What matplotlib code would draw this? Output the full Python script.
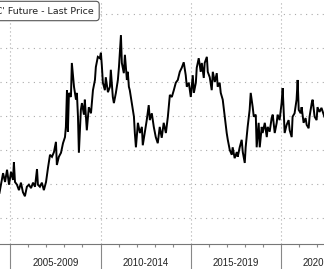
import matplotlib
matplotlib.use('Agg')
import matplotlib.pyplot as plt
import matplotlib.transforms as mtransforms

# cocoa generic 1st future, last price
years = [2004.40, 2004.60, 2004.71, 2004.82, 2004.93, 2005.04, 2005.15, 2005.20, 2005.26, 2005.37,
         2005.48, 2005.59, 2005.70, 2005.81, 2005.92, 2006.03, 2006.15, 2006.26, 2006.37, 2006.48,
         2006.53, 2006.64, 2006.75, 2006.86, 2006.98, 2007.09, 2007.20, 2007.31, 2007.42, 2007.53,
         2007.58, 2007.69, 2007.81, 2007.92, 2008.03, 2008.08, 2008.14, 2008.19, 2008.25, 2008.36,
         2008.41, 2008.53, 2008.64, 2008.69, 2008.75, 2008.80, 2008.91, 2008.97, 2009.08, 2009.13,
         2009.24, 2009.35, 2009.47, 2009.58, 2009.69, 2009.74, 2009.85, 2009.96, 2010.02, 2010.07,
         2010.13, 2010.24, 2010.29, 2010.41, 2010.52, 2010.57, 2010.68, 2010.74, 2010.85, 2010.96,
         2011.02, 2011.13, 2011.18, 2011.29, 2011.35, 2011.46, 2011.51, 2011.57, 2011.62, 2011.73,
         2011.85, 2011.90, 2011.96, 2012.07, 2012.18, 2012.29, 2012.34, 2012.45, 2012.56, 2012.67,
         2012.73, 2012.84, 2012.95, 2013.06, 2013.17, 2013.28, 2013.39, 2013.50, 2013.62, 2013.73,
         2013.84, 2013.95, 2014.06, 2014.17, 2014.28, 2014.39, 2014.50, 2014.61, 2014.72, 2014.78,
         2014.89, 2015.00, 2015.11, 2015.17, 2015.28, 2015.33, 2015.44, 2015.55, 2015.61, 2015.72,
         2015.77, 2015.89, 2015.94, 2016.05, 2016.16, 2016.22, 2016.33, 2016.44, 2016.49, 2016.60,
         2016.66, 2016.77, 2016.88, 2016.99, 2017.05, 2017.16, 2017.27, 2017.32, 2017.43, 2017.55,
         2017.60, 2017.71, 2017.82, 2017.88, 2017.99, 2018.04, 2018.15, 2018.26, 2018.32, 2018.43,
         2018.49, 2018.60, 2018.65, 2018.76, 2018.82, 2018.93, 2018.98, 2019.10, 2019.21, 2019.26,
         2019.37, 2019.48, 2019.54, 2019.65, 2019.76, 2019.81, 2019.92, 2020.03, 2020.09, 2020.20,
         2020.31, 2020.42, 2020.48, 2020.59, 2020.64, 2020.75, 2020.86, 2020.92, 2020.98, 2021.09,
         2021.14, 2021.25, 2021.36, 2021.42, 2021.53, 2021.58, 2021.70, 2021.75, 2021.86, 2021.97,
         2022.02, 2022.13, 2022.24, 2022.40]
prices = [1370, 1660, 1530, 1710, 1490, 1680, 1560, 1820, 1530, 1490,
          1410, 1520, 1380, 1320, 1460, 1490, 1440, 1520, 1460, 1720,
          1490, 1460, 1520, 1410, 1530, 1740, 1930, 1900, 1970, 2120,
          1780, 1900, 1960, 2100, 2190, 2340, 2880, 2270, 2840, 2780,
          3280, 2930, 2740, 2840, 2490, 1960, 2590, 2690, 2520, 2740,
          2290, 2630, 2540, 2880, 3030, 3220, 3370, 3350, 3430, 3250,
          2990, 2880, 3070, 2850, 2930, 3180, 2780, 2690, 2840, 3030,
          3220, 3690, 3280, 3130, 3400, 3030, 3150, 2930, 2880, 2690,
          2490, 2250, 2040, 2400, 2250, 2340, 2070, 2250, 2440, 2660,
          2440, 2540, 2340, 2190, 2100, 2340, 2180, 2400, 2250, 2490,
          2810, 2780, 2880, 2990, 3030, 3150, 3210, 3290, 3100, 2930,
          2990, 2780, 3100, 2840, 2990, 3210, 3350, 3150, 3280, 3060,
          3280, 3370, 3150, 3070, 2880, 3150, 3000, 3130, 2930, 2990,
          2840, 2740, 2490, 2250, 2150, 2000, 1930, 2040, 1880, 1970,
          1900, 2040, 2150, 1970, 1810, 2040, 2340, 2590, 2840, 2630,
          2490, 2520, 2040, 2400, 2040, 2340, 2250, 2400, 2190, 2340,
          2270, 2470, 2520, 2250, 2400, 2520, 2440, 2690, 2910, 2250,
          2370, 2440, 2290, 2190, 2490, 2540, 2740, 3030, 2590, 2540,
          2630, 2400, 2470, 2370, 2320, 2490, 2690, 2740, 2490, 2440,
          2630, 2560, 2620, 2490]

period_labels = ['2005-2009', '2010-2014', '2015-2019', '2020-2024']
period_starts = [2005, 2010, 2015, 2020]
legend_text = "Generic 1st 'CC' Future - Last Price"

fig = plt.figure(figsize=(3.24, 2.69), dpi=100)
ax = fig.add_axes([0, 25 / 269, 1, 244 / 269])

ax.plot(years, prices, color='black', lw=1.4, solid_joinstyle='miter')

# dotted grid
for v in range(1000, 4001, 500):
    ax.axhline(v, color='#aaaaaa', lw=0.8, ls=(0, (1, 4)), zorder=0)
for s in period_starts:
    ax.axvline(s, color='#aaaaaa', lw=0.8, ls=(0, (1, 2.6)), zorder=0)

for side in ['left', 'right', 'top']:
    ax.spines[side].set_visible(False)
ax.spines['bottom'].set_color('#777777')
ax.spines['bottom'].set_linewidth(0.8)

ax.set_yticks([])
ax.set_xticks(period_starts)
ax.set_xticks(range(2005, 2023), minor=True)
ax.tick_params(axis='x', which='major', length=19, width=0.8, color='#888888', labelbottom=False)
ax.tick_params(axis='x', which='minor', length=2, width=0.8, color='#888888')

# limits after the ticks, set_xticks can widen the view
ax.set_xlim(2004.43, 2022.38)
ax.set_ylim(618, 4206)

# period labels centred between the major ticks
trans = mtransforms.blended_transform_factory(ax.transData, fig.transFigure)
for s, lab in zip(period_starts, period_labels):
    ax.text(s + 2.5, 6 / 269, lab, transform=trans, ha='center', va='center',
            fontsize=7, family='Liberation Sans', color='#222222', clip_on=False)

# legend box, cut off at the left edge
fig.text(94 / 324, 1 - 11 / 269, legend_text, ha='right', va='center', fontsize=6.8,
         family='DejaVu Sans', color='#222222',
         bbox=dict(boxstyle='round,pad=0.55,rounding_size=0.35', fc='white', ec='#555555', lw=0.8))

fig.savefig('out.png', dpi=100)
